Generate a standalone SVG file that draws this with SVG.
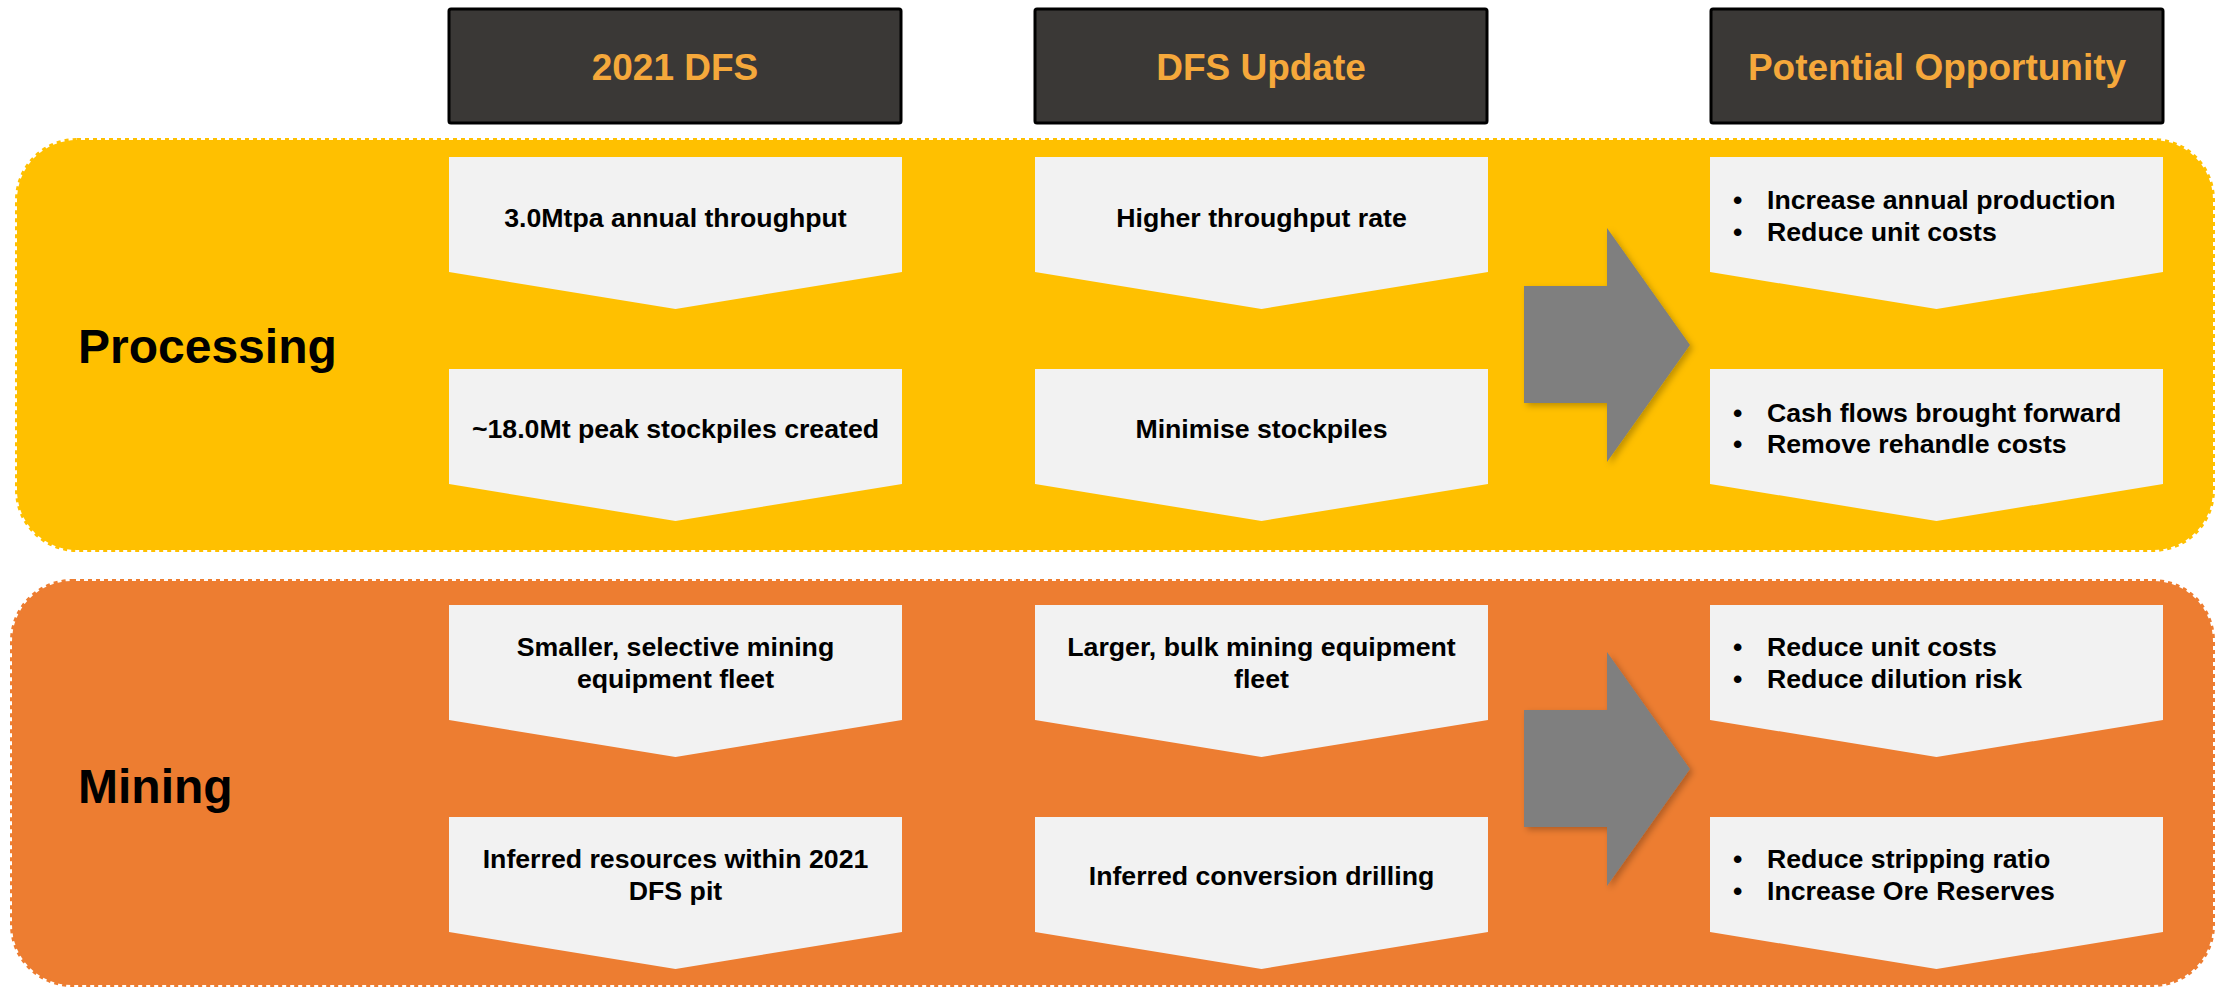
<svg xmlns="http://www.w3.org/2000/svg" width="2215" height="988" viewBox="0 0 2215 988">
<defs>
<style>
.hdr{fill:#3A3836;stroke:#000;stroke-width:3}
.htx{font-family:"Liberation Sans",Arial,sans-serif;font-weight:bold;font-size:37px;fill:#F5A83B;text-anchor:middle}
.chev{fill:#F2F2F2}
.tx{font-family:"Liberation Sans",Arial,sans-serif;font-weight:bold;font-size:26.7px;fill:#000}
.c{text-anchor:middle}
.lab{font-family:"Liberation Sans",Arial,sans-serif;font-weight:bold;font-size:48px;fill:#000}
.arr{fill:#7F7F7F}
</style>
<filter id="sh" x="-20%" y="-20%" width="150%" height="150%">
<feDropShadow dx="3" dy="3" stdDeviation="3" flood-color="#000" flood-opacity="0.25"/>
</filter>
</defs>
<rect width="2215" height="988" fill="#FFFFFF"/>

<g id="band-processing">
<rect x="17" y="140" width="2196" height="410" rx="60" ry="60" fill="#FFC000" stroke="#FFC000" stroke-width="4" stroke-dasharray="4 4"/>
<text class="lab" x="78" y="363">Processing</text>
</g>
<g id="band-mining">
<rect x="12" y="581" width="2201" height="404" rx="60" ry="60" fill="#ED7D31" stroke="#ED7D31" stroke-width="4" stroke-dasharray="4 4"/>
<text class="lab" x="78" y="803">Mining</text>
</g>

<g id="header-2021">
<rect class="hdr" x="449" y="9" width="452" height="114" rx="2"/>
<text class="htx" x="675" y="80">2021 DFS</text>
</g>
<g id="header-update">
<rect class="hdr" x="1035" y="9" width="452" height="114" rx="2"/>
<text class="htx" x="1261" y="80">DFS Update</text>
</g>
<g id="header-opportunity">
<rect class="hdr" x="1711" y="9" width="452" height="114" rx="2"/>
<text class="htx" x="1937" y="80">Potential Opportunity</text>
</g>

<g id="p-2021-1">
<path class="chev" d="M449,157 L902,157 L902,272 L675.5,309 L449,272 Z"/>
<text class="tx c" x="675.5" y="227">3.0Mtpa annual throughput</text>
</g>
<g id="p-2021-2">
<path class="chev" d="M449,369 L902,369 L902,484 L675.5,521 L449,484 Z"/>
<text class="tx c" x="675.5" y="438">~18.0Mt peak stockpiles created</text>
</g>
<g id="p-upd-1">
<path class="chev" d="M1035,157 L1488,157 L1488,272 L1261.5,309 L1035,272 Z"/>
<text class="tx c" x="1261.5" y="227">Higher throughput rate</text>
</g>
<g id="p-upd-2">
<path class="chev" d="M1035,369 L1488,369 L1488,484 L1261.5,521 L1035,484 Z"/>
<text class="tx c" x="1261.5" y="438">Minimise stockpiles</text>
</g>
<g id="p-opp-1">
<path class="chev" d="M1710,157 L2163,157 L2163,272 L1936.5,309 L1710,272 Z"/>
<text class="tx" x="1733" y="209">•</text><text class="tx" x="1767" y="209">Increase annual production</text>
<text class="tx" x="1733" y="241">•</text><text class="tx" x="1767" y="241">Reduce unit costs</text>
</g>
<g id="p-opp-2">
<path class="chev" d="M1710,369 L2163,369 L2163,484 L1936.5,521 L1710,484 Z"/>
<text class="tx" x="1733" y="422">•</text><text class="tx" x="1767" y="422">Cash flows brought forward</text>
<text class="tx" x="1733" y="453">•</text><text class="tx" x="1767" y="453">Remove rehandle costs</text>
</g>

<g id="m-2021-1">
<path class="chev" d="M449,605 L902,605 L902,720 L675.5,757 L449,720 Z"/>
<text class="tx c" x="675.5" y="656">Smaller, selective mining</text>
<text class="tx c" x="675.5" y="688">equipment fleet</text>
</g>
<g id="m-2021-2">
<path class="chev" d="M449,817 L902,817 L902,932 L675.5,969 L449,932 Z"/>
<text class="tx c" x="675.5" y="868">Inferred resources within 2021</text>
<text class="tx c" x="675.5" y="900">DFS pit</text>
</g>
<g id="m-upd-1">
<path class="chev" d="M1035,605 L1488,605 L1488,720 L1261.5,757 L1035,720 Z"/>
<text class="tx c" x="1261.5" y="656">Larger, bulk mining equipment</text>
<text class="tx c" x="1261.5" y="688">fleet</text>
</g>
<g id="m-upd-2">
<path class="chev" d="M1035,817 L1488,817 L1488,932 L1261.5,969 L1035,932 Z"/>
<text class="tx c" x="1261.5" y="885">Inferred conversion drilling</text>
</g>
<g id="m-opp-1">
<path class="chev" d="M1710,605 L2163,605 L2163,720 L1936.5,757 L1710,720 Z"/>
<text class="tx" x="1733" y="656">•</text><text class="tx" x="1767" y="656">Reduce unit costs</text>
<text class="tx" x="1733" y="688">•</text><text class="tx" x="1767" y="688">Reduce dilution risk</text>
</g>
<g id="m-opp-2">
<path class="chev" d="M1710,817 L2163,817 L2163,932 L1936.5,969 L1710,932 Z"/>
<text class="tx" x="1733" y="868">•</text><text class="tx" x="1767" y="868">Reduce stripping ratio</text>
<text class="tx" x="1733" y="900">•</text><text class="tx" x="1767" y="900">Increase Ore Reserves</text>
</g>

<g id="connectors">
<path class="arr" filter="url(#sh)" d="M1524,286 L1607,286 L1607,228 L1690,345 L1607,462 L1607,403 L1524,403 Z"/>
<path class="arr" filter="url(#sh)" d="M1524,710 L1607,710 L1607,652 L1690,769 L1607,886 L1607,827 L1524,827 Z"/>
</g>
</svg>
